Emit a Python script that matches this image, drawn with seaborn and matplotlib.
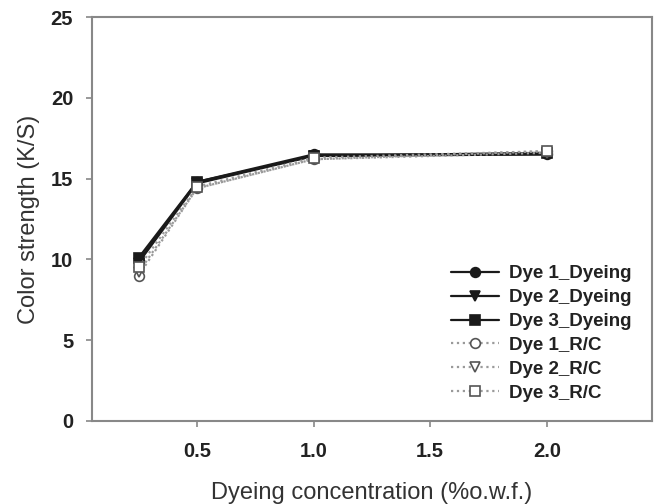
import matplotlib
matplotlib.use("Agg")
import matplotlib.pyplot as plt
import seaborn as sns
import pandas as pd

concentration = [0.25, 0.5, 1.0, 2.0]
dye1_dyeing = [9.9, 14.8, 16.5, 16.5]
dye2_dyeing = [9.8, 14.7, 16.4, 16.5]
dye3_dyeing = [10.1, 14.8, 16.4, 16.6]
dye1_rc = [9.0, 14.4, 16.2, 16.7]
dye2_rc = [9.2, 14.4, 16.2, 16.6]
dye3_rc = [9.5, 14.5, 16.3, 16.7]

series_names = ["Dye 1_Dyeing", "Dye 2_Dyeing", "Dye 3_Dyeing",
                "Dye 1_R/C", "Dye 2_R/C", "Dye 3_R/C"]
series_values = [dye1_dyeing, dye2_dyeing, dye3_dyeing, dye1_rc, dye2_rc, dye3_rc]

sns.set_theme(style="ticks")
plt.rcParams['font.family'] = ['Liberation Sans', 'DejaVu Sans']

fig = plt.figure(figsize=(6.57, 5.04), dpi=100)
ax = fig.add_axes([0.140, 0.165, 0.852, 0.801])

styles = [
    dict(marker="o", color="#1a1a1a", ls="-", mfc="#1a1a1a", mec="#1a1a1a"),
    dict(marker="v", color="#1a1a1a", ls="-", mfc="#1a1a1a", mec="#1a1a1a"),
    dict(marker="s", color="#1a1a1a", ls="-", mfc="#1a1a1a", mec="#1a1a1a"),
    dict(marker="o", color="#9a9a9a", ls=":", mfc="white", mec="#555555"),
    dict(marker="v", color="#9a9a9a", ls=":", mfc="white", mec="#555555"),
    dict(marker="s", color="#9a9a9a", ls=":", mfc="white", mec="#555555"),
]

for name, vals, st in zip(series_names, series_values, styles):
    df = pd.DataFrame({"x": concentration, "y": vals})
    sns.lineplot(data=df, x="x", y="y", ax=ax, label=name,
                 color=st["color"], linestyle=st["ls"], linewidth=1.6,
                 marker=st["marker"], markersize=7,
                 markerfacecolor=st["mfc"], markeredgecolor=st["mec"],
                 markeredgewidth=1.2)

ax.set_xlim(0.05, 2.45)
ax.set_ylim(0, 25)
ax.set_xticks([0.5, 1.0, 1.5, 2.0])
ax.set_xticklabels(["0.5", "1.0", "1.5", "2.0"])
ax.set_yticks([0, 5, 10, 15, 20, 25])
ax.set_yticklabels(["0", "5", "10", "15", "20", "25"])

for sp in ax.spines.values():
    sp.set_visible(True)
    sp.set_color("#888888")
    sp.set_linewidth(1.5)

ax.tick_params(axis="both", direction="out", length=4.5, width=1.2,
               color="#888888", labelsize=14.5, labelcolor="#222222", pad=9)
ax.tick_params(axis="x", pad=11)
for lbl in ax.get_xticklabels() + ax.get_yticklabels():
    lbl.set_fontweight("bold")

ax.set_xlabel("Dyeing concentration (%o.w.f.)", fontsize=17, color="#333333", labelpad=15)
ax.set_ylabel("Color strength (K/S)", fontsize=17, color="#333333", labelpad=8)

leg = ax.legend(loc="lower right", frameon=False, fontsize=13.5,
                handlelength=2.6, handletextpad=0.5, labelspacing=0.36,
                borderaxespad=0.4, bbox_to_anchor=(0.99, 0.01))
for t in leg.get_texts():
    t.set_fontweight("bold")
    t.set_color("#222222")

fig.savefig("out.png", dpi=100)
